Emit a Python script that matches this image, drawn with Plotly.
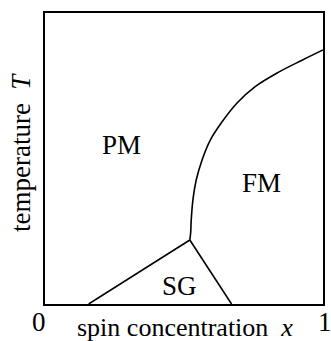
import plotly.graph_objects as go

# Phase boundaries (x = spin concentration, y = temperature, normalized)
sg_left_x = [0.157, 0.521]
sg_left_y = [0.0, 0.22]
sg_right_x = [0.521, 0.671]
sg_right_y = [0.22, 0.0]
fm_x = [0.521, 0.524, 0.526, 0.532, 0.544, 0.565, 0.595, 0.637, 0.690, 0.756, 0.839, 0.923, 1.0]
fm_y = [0.22, 0.245, 0.289, 0.357, 0.426, 0.495, 0.564, 0.626, 0.690, 0.747, 0.796, 0.837, 0.873]

region_labels = ["PM", "FM", "SG"]
region_x = [0.275, 0.779, 0.482]
region_y = [0.546, 0.416, 0.062]

FONT = "Liberation Serif, Times New Roman, serif"
line = dict(color="black", width=1.6)

fig = go.Figure()
fig.add_trace(go.Scatter(x=sg_left_x, y=sg_left_y, mode="lines", line=line, showlegend=False))
fig.add_trace(go.Scatter(x=sg_right_x, y=sg_right_y, mode="lines", line=line, showlegend=False))
fig.add_trace(go.Scatter(x=fm_x, y=fm_y, mode="lines",
                         line=dict(color="black", width=1.6, shape="spline", smoothing=1.0), showlegend=False))

for t, x, y in zip(region_labels, region_x, region_y):
    fig.add_annotation(x=x, y=y, text=t, showarrow=False, font=dict(family=FONT, size=27, color="black"))

def paper_text(x, y, text, angle=0, size=27):
    fig.add_annotation(x=x, y=y, xref="paper", yref="paper", text=text, showarrow=False,
                       xanchor="center", yanchor="middle", textangle=angle,
                       font=dict(family=FONT, size=size, color="black"))

paper_text(-0.021, -0.062, "0")
paper_text(1.007, -0.062, "1")
paper_text(0.503, -0.08, "spin concentration  <i>x</i>", size=26)
paper_text(-0.086, 0.519, "temperature  <i>T</i>", angle=-90)

axis_common = dict(showgrid=False, zeroline=False, showticklabels=False, ticks="",
                   showline=True, linecolor="black", linewidth=2, mirror=True)
fig.update_xaxes(range=[0, 1], **axis_common)
fig.update_yaxes(range=[0, 1], **axis_common)

fig.update_layout(width=331, height=341, margin=dict(l=45, r=6, t=13, b=37),
                  plot_bgcolor="white", paper_bgcolor="white")

fig.write_html("out.html")
